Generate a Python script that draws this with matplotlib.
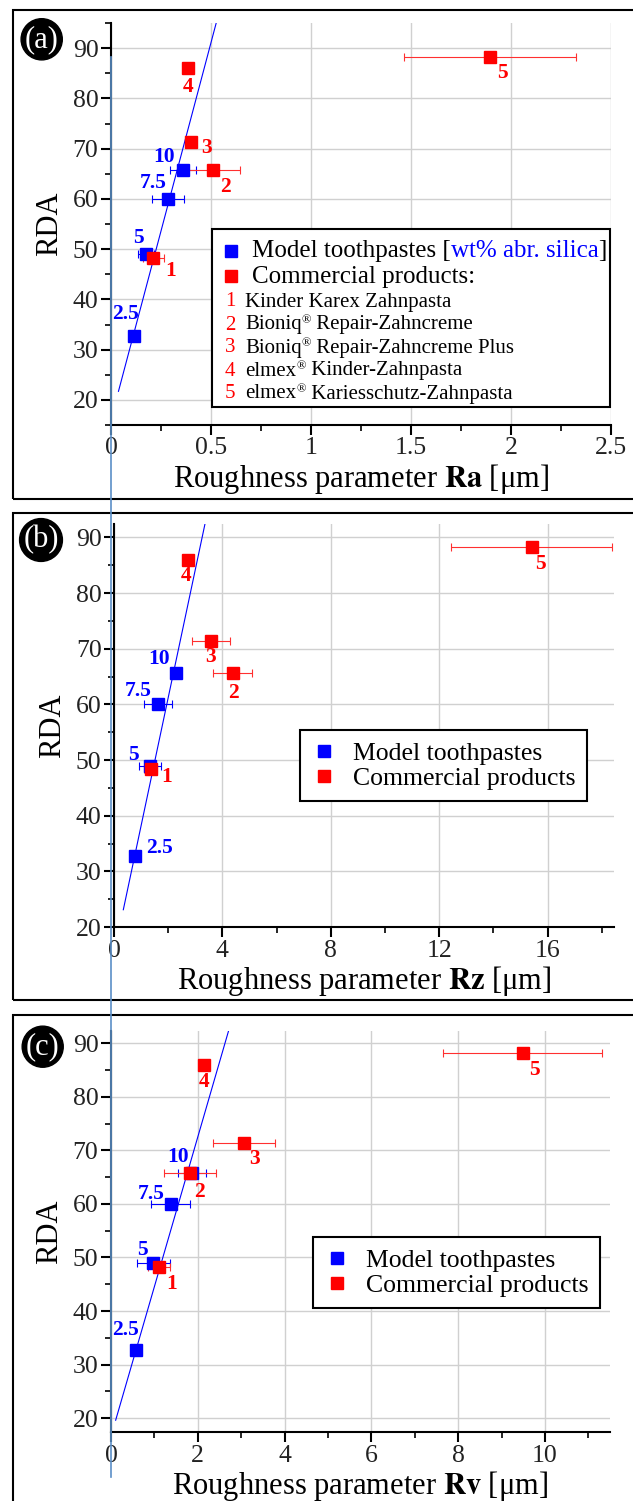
import numpy as np
import matplotlib
matplotlib.use("Agg")
import matplotlib.pyplot as plt
from matplotlib.lines import Line2D
from matplotlib.patches import Rectangle
from matplotlib.ticker import MultipleLocator, FuncFormatter

plt.rcParams['font.family'] = ['Liberation Serif', 'DejaVu Serif']
plt.rcParams['mathtext.fontset'] = 'stix'

# RDA values (same in every panel)
model_rda = [32.8, 49.0, 60.0, 65.7]
model_names = ['2.5', '5', '7.5', '10']
comm_rda = [48.3, 65.7, 71.4, 86.0, 88.2]
comm_names = ['1', '2', '3', '4', '5']
# product names: (brand, rest) -> brand gets a registered sign when rest is set
products = [('Kinder Karex Zahnpasta', None),
            ('Bioniq', 'Repair-Zahncreme'),
            ('Bioniq', 'Repair-Zahncreme Plus'),
            ('elmex', 'Kinder-Zahnpasta'),
            ('elmex', 'Kariesschutz-Zahnpasta')]

# Ra
ra_model = [0.117, 0.173, 0.283, 0.362]
ra_model_err = [0.0, 0.04, 0.08, 0.065]
ra_comm = [0.212, 0.508, 0.40, 0.387, 1.895]
ra_comm_err = [0.054, 0.135, 0.0, 0.0, 0.43]
ra_fit = (150.0, 16.1)

# Rz
rz_model = [0.775, 1.33, 1.635, 2.29]
rz_model_err = [0.0, 0.4, 0.52, 0.15]
rz_comm = [1.35, 4.38, 3.57, 2.72, 15.41]
rz_comm_err = [0.25, 0.73, 0.71, 0.0, 2.96]
rz_fit = (23.0, 15.2)

# Rv
rv_model = [0.576, 0.975, 1.375, 1.87]
rv_model_err = [0.0, 0.38, 0.45, 0.32]
rv_comm = [1.11, 1.82, 3.07, 2.14, 9.49]
rv_comm_err = [0.26, 0.59, 0.71, 0.0, 1.83]
rv_fit = (27.95, 16.6)

W, H = 633, 1501
fig = plt.figure(figsize=(W / 100, H / 100), dpi=100)


def fx(px):
    return px / W


def fy(py):
    return 1 - py / H


def make_axes(left, right, top, bottom):
    return fig.add_axes([fx(left), fy(bottom), fx(right - left), (bottom - top) / H])


def panel(ax, xm, xme, xc, xce, fit, xlim, ylim, xmaj, xlabel, y_fit0,
          moff, coff):
    ax.set_xlim(*xlim)
    ax.set_ylim(*ylim)
    for s in ['top', 'right']:
        ax.spines[s].set_visible(False)
    for s in ['left', 'bottom']:
        ax.spines[s].set_linewidth(1.5)
    ax.xaxis.set_major_locator(MultipleLocator(xmaj))
    ax.xaxis.set_minor_locator(MultipleLocator(xmaj / 2))
    ax.yaxis.set_major_locator(MultipleLocator(10))
    ax.yaxis.set_minor_locator(MultipleLocator(5))
    ax.tick_params(which='major', direction='out', length=7, width=1.5,
                   labelsize=18.5, pad=2, labelcolor='#222222')
    ax.tick_params(which='minor', direction='out', length=4, width=1.2)
    ax.grid(True, which='major', color='#d0d0d0', lw=1)
    ax.set_axisbelow(True)
    ax.xaxis.set_major_formatter(FuncFormatter(lambda v, p: '%g' % v))

    m, b = fit
    yy = np.array([y_fit0, ylim[1]])
    ax.plot((yy - b) / m, yy, color='blue', lw=0.8, zorder=2)

    ax.errorbar(xm, model_rda, xerr=xme, fmt='none', ecolor='blue',
                elinewidth=0.8, capsize=3, capthick=0.8, zorder=3)
    ax.errorbar(xc, comm_rda, xerr=xce, fmt='none', ecolor='#ff3030',
                elinewidth=0.8, capsize=3, capthick=0.8, zorder=3)
    ax.plot(xm, model_rda, 's', color='blue', ms=9, zorder=4, clip_on=False)
    ax.plot(xc, comm_rda, 's', color='red', ms=9, zorder=5, clip_on=False)

    for x, y, t, o in zip(xm, model_rda, model_names, moff):
        ax.annotate(t, (x, y), xytext=(o[0] * 0.72, o[1] * 0.72),
                    textcoords='offset points', ha='center', va='center',
                    color='blue', fontsize=15.5, fontweight='bold')
    for x, y, t, o in zip(xc, comm_rda, comm_names, coff):
        ax.annotate(t, (x, y), xytext=(o[0] * 0.72, o[1] * 0.72),
                    textcoords='offset points', ha='center', va='center',
                    color='red', fontsize=15.5, fontweight='bold')

    ax.set_xlabel(xlabel, fontsize=22, labelpad=2)
    ax.set_ylabel('RDA', fontsize=22, labelpad=6)


def rich_line(ax, px, py, parts):
    # parts: list of (text, color, size, raise_pts); chained left to right
    first = None
    prev = None
    for text, color, size, up in parts:
        if prev is None:
            t = ax.text(fx(px), fy(py), text, transform=fig.transFigure,
                        fontsize=size, color=color, va='center', zorder=12,
                        clip_on=False)
            first = t
        else:
            t = ax.annotate(text, xy=(1, 0), xycoords=(prev, first),
                            xytext=(0, up), textcoords='offset points',
                            va='bottom', fontsize=size, color=color,
                            zorder=12, annotation_clip=False)
        prev = t
    return first


# panel (a)
ax1 = make_axes(111, 611, 23, 425)
panel(ax1, ra_model, ra_model_err, ra_comm, ra_comm_err, ra_fit,
      (0, 2.5), (15, 95), 0.5,
      r'Roughness parameter $\mathbf{Ra}$ [μm]', 21.7,
      [(-9, 22), (-7, 16), (-14, 16), (-19, 13)],
      [(17, -13), (13, -17), (16, -6), (0, -19), (12, -16)])

# legend (a), built by hand inside the axes layer
lx0, lx1, ly0, ly1 = 212, 610, 229, 407
ax1.add_patch(Rectangle((fx(lx0), fy(ly1)), fx(lx1 - lx0), (ly1 - ly0) / H,
                        transform=fig.transFigure, fc='white', ec='black',
                        lw=1.5, zorder=10, clip_on=False))
for py, c in [(251, 'blue'), (276, 'red')]:
    ax1.plot([fx(231)], [fy(py)], 's', ms=8, color=c, transform=fig.transFigure,
             zorder=11, clip_on=False)
rich_line(ax1, 252, 251, [('Model toothpastes [', 'black', 18, 0),
                          ('wt% abr. silica', 'blue', 18, 0),
                          (']', 'black', 18, 0)])
ax1.text(fx(252), fy(277), 'Commercial products:', fontsize=18, va='center',
         transform=fig.transFigure, zorder=12, clip_on=False)
for i, (n, (brand, rest)) in enumerate(zip(comm_names, products)):
    py = 302 + i * 23
    ax1.text(fx(230), fy(py), n, fontsize=15, color='red', ha='center',
             va='center', transform=fig.transFigure, zorder=12, clip_on=False)
    if rest is None:
        rich_line(ax1, 245, py, [(brand, 'black', 15, 0)])
    else:
        rich_line(ax1, 245, py, [(brand, 'black', 15, 0),
                                 ('®', 'black', 9, 6),
                                 (' ' + rest, 'black', 15, 0)])

# panel (b)
ax2 = make_axes(114, 614, 524, 927)
panel(ax2, rz_model, rz_model_err, rz_comm, rz_comm_err, rz_fit,
      (0, 18.45), (20, 92.4), 4,
      r'Roughness parameter $\mathbf{Rz}$ [μm]', 23.1,
      [(24, 8), (-17, 11), (-20, 13), (-17, 14)],
      [(16, -8), (1, -20), (0, -16), (-2, -16), (9, -17)])

# panel (c)
ax3 = make_axes(111, 610, 1031, 1432)
panel(ax3, rv_model, rv_model_err, rv_comm, rv_comm_err, rv_fit,
      (0, 11.5), (17.4, 92.3), 2,
      r'Roughness parameter $\mathbf{Rv}$ [μm]', 19.6,
      [(-10, 20), (-11, 13), (-19, 10), (-14, 16)],
      [(12, -17), (9, -19), (10, -16), (0, -17), (12, -17)])

handles = [Line2D([], [], marker='s', ls='none', color='blue', ms=8),
           Line2D([], [], marker='s', ls='none', color='red', ms=8)]
labels = ['Model toothpastes', 'Commercial products']
for ax, (l, t) in [(ax2, (300, 730)), (ax3, (313, 1237))]:
    leg = ax.legend(handles, labels, loc='upper left', fontsize=18.5,
                    bbox_to_anchor=(fx(l), fy(t)), bbox_transform=fig.transFigure,
                    frameon=True, fancybox=False, framealpha=1, edgecolor='black',
                    borderpad=0.45, handletextpad=0.6, labelspacing=0.08,
                    handlelength=1.0, borderaxespad=0)
    leg.get_frame().set_linewidth(1.5)

# outer panel frames
for top, bot in [(10, 499), (513, 1000), (1015, 1510)]:
    fig.add_artist(Rectangle((fx(13), fy(bot)), 1.0, (bot - top) / H,
                             transform=fig.transFigure, fill=False,
                             ec='black', lw=1.5))

# panel letters
for name, cx, cy in [('(a)', 41.7, 39.3), ('(b)', 41, 540), ('(c)', 42.7, 1046.7)]:
    fig.text(fx(cx), fy(cy), name, ha='center', va='center', color='white',
             fontsize=22, bbox=dict(boxstyle='circle,pad=0.12', fc='black', ec='black'))

# stray vertical guide line
fig.add_artist(Line2D([fx(111), fx(111)], [fy(57), fy(1477)], color='#5b8fc7',
                      lw=1.2, transform=fig.transFigure, zorder=20))

fig.savefig('out.png', dpi=100)
